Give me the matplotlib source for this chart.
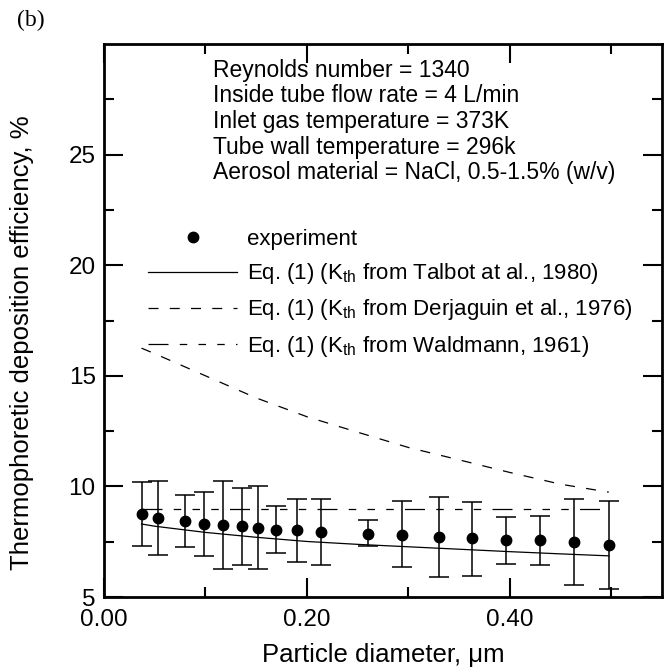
import matplotlib
matplotlib.use("Agg")
import matplotlib.pyplot as plt
import numpy as np
from matplotlib.lines import Line2D

plt.rcParams['font.family'] = ['Liberation Sans', 'DejaVu Sans']
plt.rcParams['mathtext.fontset'] = 'custom'
plt.rcParams['mathtext.rm'] = 'Liberation Sans'
plt.rcParams['mathtext.it'] = 'Liberation Sans:italic'

# experiment
diam = [0.037, 0.0535, 0.080, 0.099, 0.117, 0.136, 0.152, 0.170, 0.190,
        0.214, 0.260, 0.294, 0.330, 0.363, 0.396, 0.430, 0.463, 0.4975]
eff = [8.76, 8.58, 8.45, 8.30, 8.26, 8.20, 8.14, 8.05, 8.02,
       7.94, 7.86, 7.82, 7.71, 7.66, 7.59, 7.56, 7.49, 7.35]
eff_hi = [10.21, 10.26, 9.61, 9.74, 10.26, 9.91, 10.0, 9.12, 9.41,
          9.44, 8.47, 9.32, 9.51, 9.31, 8.62, 8.65, 9.44, 9.33]
eff_lo = [7.32, 6.88, 7.24, 6.86, 6.26, 6.44, 6.27, 7.01, 6.59,
          6.45, 7.29, 6.35, 5.91, 5.97, 6.51, 6.45, 5.53, 5.35]

# Eq. (1) curves
curve_d = [0.037, 0.05, 0.10, 0.15, 0.20, 0.25, 0.30, 0.35, 0.40, 0.45, 0.4975]
talbot = [8.30, 8.20, 7.92, 7.70, 7.51, 7.38, 7.27, 7.16, 7.05, 6.95, 6.86]
derjaguin = [16.25, 16.0, 15.0, 14.0, 13.15, 12.45, 11.76, 11.2, 10.63, 10.1, 9.74]
wald_d = [0.037, 0.4975]
waldmann = [9.0, 9.0]

info = ["Reynolds number = 1340",
        "Inside tube flow rate = 4 L/min",
        "Inlet gas temperature = 373K",
        "Tube wall temperature = 296k",
        "Aerosol material = NaCl, 0.5-1.5% (w/v)"]

dash_d = (0, (8, 9))
dash_w = (0, (16, 9, 6, 9, 6, 9, 6, 9))

fig = plt.figure(figsize=(6.67, 6.71), dpi=100)
ax = fig.add_axes([104/667, 1-597/671, 558/667, 553/671])

eff = np.array(eff)
yerr = [eff - np.array(eff_lo), np.array(eff_hi) - eff]
ax.errorbar(diam, eff, yerr=yerr, fmt='o', color='black', ms=7.5,
            elinewidth=1.1, capsize=7, capthick=1.1, zorder=3)
ax.plot(curve_d, talbot, '-', color='black', lw=0.9)
ax.plot(curve_d, derjaguin, color='black', lw=0.9, linestyle=dash_d)
ax.plot(wald_d, waldmann, color='black', lw=0.9, linestyle=dash_w)

ax.set_xlim(0, 0.55)
ax.set_ylim(5, 30)
ax.set_xticks([0.0, 0.2, 0.4])
ax.set_xticks([0.1, 0.3, 0.5], minor=True)
ax.set_xticklabels(['0.00', '0.20', '0.40'])
ax.set_yticks([5, 10, 15, 20, 25])
ax.set_yticks([7.5, 12.5, 17.5, 22.5, 27.5], minor=True)
ax.tick_params(which='both', direction='in', top=True, right=True,
               width=1.5, labelsize=17.5)
ax.tick_params(which='major', length=13.5)
ax.tick_params(which='minor', length=7)
ax.tick_params(axis='x', pad=9)
ax.tick_params(axis='y', pad=6)
for s in ax.spines.values():
    s.set_linewidth(2)

ax.set_xlabel("Particle diameter, \u03bcm", fontsize=18.5, labelpad=8)
ax.set_ylabel("Thermophoretic deposition efficiency, %", fontsize=18.5)
ax.yaxis.set_label_coords(-0.125, 0.46)

for i, line in enumerate(info):
    ax.text(0.195, (597 - 70 - 25.7*i)/553, line, transform=ax.transAxes,
            fontsize=16.5, va='center', ha='left')

handles = [Line2D([], [], marker='o', color='black', ls='none', ms=7.5),
           Line2D([], [], color='black', lw=0.9),
           Line2D([], [], color='black', lw=0.9, linestyle=dash_d),
           Line2D([], [], color='black', lw=0.9, linestyle=dash_w)]
labels = ["experiment",
          r"Eq. (1) (K$_{\mathrm{th}}$ from Talbot at al., 1980)",
          r"Eq. (1) (K$_{\mathrm{th}}$ from Derjaguin et al., 1976)",
          r"Eq. (1) (K$_{\mathrm{th}}$ from Waldmann, 1961)"]
ax.legend(handles, labels, loc='upper left', bbox_to_anchor=(0.079, 0.665),
          frameon=False, fontsize=16, handlelength=4.0, handletextpad=0.45,
          labelspacing=0.5, borderpad=0, borderaxespad=0)

fig.text(17/667, 1-20/671, "(b)", fontsize=17, family='Liberation Serif',
         va='center', ha='left')

fig.savefig("out.png", dpi=100)
